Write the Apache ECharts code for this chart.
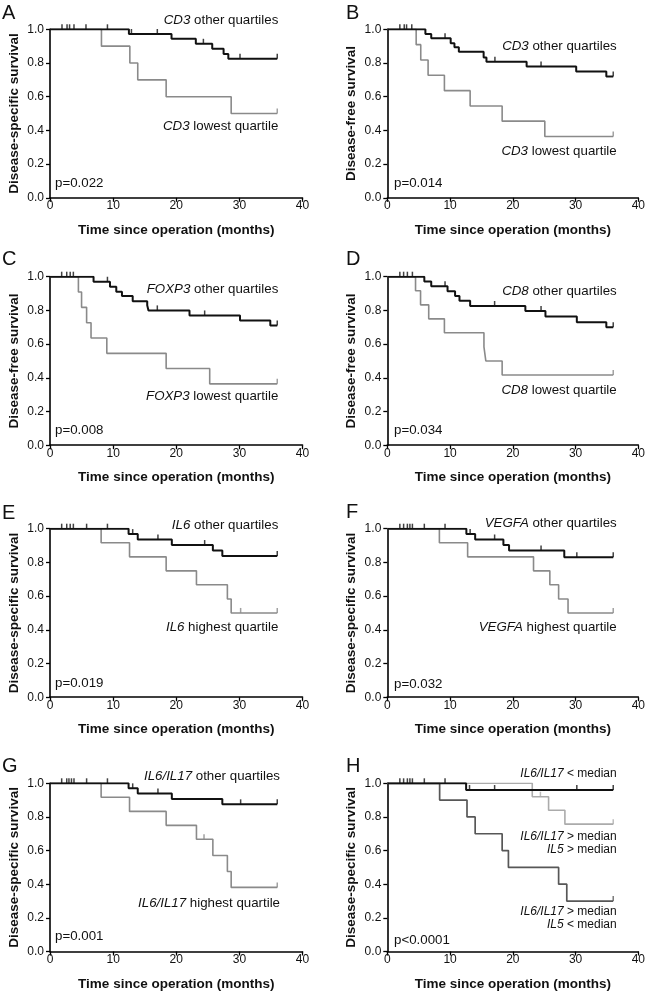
<!DOCTYPE html>
<html><head><meta charset="utf-8">
<script src="https://cdn.jsdelivr.net/npm/echarts@6/dist/echarts.min.js"></script>
<style>html,body{margin:0;padding:0;background:#fff}#c{width:648px;height:992px}</style>
</head><body><div id="c"></div>
<script>
// ---------- axis ticks ----------
const xTicks = [0, 10, 20, 30, 40];
const yTicks = [0, 0.2, 0.4, 0.6, 0.8, 1.0];
const xTitle = 'Time since operation (months)';
const yTitles = ['Disease-specific survival', 'Disease-free survival', 'Disease-free survival', 'Disease-free survival',
                 'Disease-specific survival', 'Disease-specific survival', 'Disease-specific survival', 'Disease-specific survival'];
const panelLetters = ['A', 'B', 'C', 'D', 'E', 'F', 'G', 'H'];
const pValues = ['p=0.022', 'p=0.014', 'p=0.008', 'p=0.034', 'p=0.019', 'p=0.032', 'p=0.001', 'p<0.0001'];

// ---------- Panel A : CD3, disease-specific survival ----------
const A_other_t = [0, 12.5, 19.25, 23.1, 25.7, 27.5, 28.25, 36];
const A_other_s = [1, 0.972, 0.944, 0.914, 0.884, 0.854, 0.825, 0.825];
const A_other_c = [1.9, 2.7, 3.1, 3.8, 5.7, 9.1, 12.9, 17.0, 24.3, 30.1, 36];
const A_low_t = [0, 8.15, 12.65, 13.9, 18.4, 28.7, 36];
const A_low_s = [1, 0.9, 0.8, 0.7, 0.6, 0.5, 0.5];
const A_low_c = [36];

// ---------- Panel B : CD3, disease-free survival ----------
const B_other_t = [0, 6.07, 7.0, 10.1, 10.7, 11.4, 15.35, 15.8, 22.2, 30.1, 34.9, 36];
const B_other_s = [1, 0.972, 0.947, 0.917, 0.893, 0.867, 0.832, 0.808, 0.779, 0.749, 0.72, 0.72];
const B_other_c = [2.0, 2.7, 3.07, 3.9, 9.2, 17.15, 24.5, 36];
const B_low_t = [0, 4.6, 5.33, 6.5, 9.1, 13.2, 18.3, 25.1, 36];
const B_low_s = [1, 0.909, 0.818, 0.727, 0.636, 0.545, 0.455, 0.364, 0.364];
const B_low_c = [36];

// ---------- Panel C : FOXP3, disease-free survival ----------
const C_other_t = [0, 6.9, 9.5, 10.5, 11.4, 13.1, 15.4, 15.6, 22.1, 30.1, 34.9, 36];
const C_other_s = [1, 0.97, 0.94, 0.91, 0.885, 0.855, 0.83, 0.80, 0.77, 0.74, 0.71, 0.71];
const C_other_c = [1.85, 2.65, 3.2, 3.7, 9.1, 17.0, 24.5, 36];
const C_low_t = [0, 4.5, 5.0, 5.8, 6.5, 9.0, 18.4, 25.3, 36];
const C_low_s = [1, 0.909, 0.818, 0.727, 0.636, 0.545, 0.455, 0.364, 0.364];
const C_low_c = [36];

// ---------- Panel D : CD8, disease-free survival ----------
const D_other_t = [0, 5.9, 7.0, 9.6, 10.8, 11.5, 13.2, 22.0, 25.2, 30.2, 34.9, 36];
const D_other_s = [1, 0.972, 0.944, 0.914, 0.886, 0.857, 0.826, 0.796, 0.764, 0.73, 0.70, 0.70];
const D_other_c = [2.0, 2.6, 3.2, 4.0, 9.2, 17.1, 24.5, 36];
const D_low_t = [0, 4.5, 5.3, 6.6, 9.1, 15.4, 15.7, 18.3, 36];
const D_low_s = [1, 0.917, 0.833, 0.75, 0.667, 0.583, 0.5, 0.417, 0.417];
const D_low_c = [36];

// ---------- Panel E : IL6, disease-specific survival ----------
const E_other_t = [0, 12.45, 13.9, 19.3, 25.8, 27.3, 36];
const E_other_s = [1, 0.968, 0.936, 0.903, 0.87, 0.838, 0.838];
const E_other_c = [1.85, 2.65, 3.2, 3.7, 5.8, 9.1, 13.1, 17.1, 24.5, 36];
const E_high_t = [0, 8.1, 12.6, 18.4, 23.2, 28.1, 28.7, 36];
const E_high_s = [1, 0.917, 0.833, 0.75, 0.667, 0.583, 0.5, 0.5];
const E_high_c = [30.2, 36];

// ---------- Panel F : VEGFA, disease-specific survival ----------
const F_other_t = [0, 12.6, 14.0, 18.5, 19.4, 28.2, 36];
const F_other_s = [1, 0.968, 0.936, 0.903, 0.87, 0.83, 0.83];
const F_other_c = [2.0, 2.6, 3.2, 3.6, 4.0, 5.9, 9.2, 13.2, 17.1, 24.5, 30.2, 36];
const F_high_t = [0, 8.3, 12.8, 23.3, 25.9, 27.3, 28.8, 36];
const F_high_s = [1, 0.917, 0.833, 0.75, 0.667, 0.583, 0.5, 0.5];
const F_high_c = [36];

// ---------- Panel G : IL6/IL17, disease-specific survival ----------
const G_other_t = [0, 12.45, 13.9, 19.3, 27.3, 36];
const G_other_s = [1, 0.97, 0.94, 0.907, 0.875, 0.875];
const G_other_c = [1.85, 2.65, 3.0, 3.4, 3.8, 5.8, 9.1, 13.1, 17.1, 30.2, 36];
const G_high_t = [0, 8.1, 12.6, 18.4, 23.2, 25.8, 28.1, 28.7, 36];
const G_high_s = [1, 0.917, 0.833, 0.75, 0.667, 0.571, 0.476, 0.381, 0.381];
const G_high_c = [24.4, 36];

// ---------- Panel H : IL6/IL17 x IL5, disease-specific survival ----------
const H_below_t = [0, 12.56, 36];
const H_below_s = [1, 0.96, 0.96];
const H_below_c = [2.0, 2.6, 3.2, 3.6, 4.0, 5.9, 9.2, 13.1, 17.1, 30.2, 36];
const H_il5hi_t = [0, 23.1, 25.7, 28.3, 36];
const H_il5hi_s = [1, 0.92, 0.84, 0.757, 0.757];
const H_il5hi_c = [24.4, 36];
const H_il5lo_t = [0, 8.34, 12.7, 14.0, 18.3, 19.3, 27.3, 28.6, 36];
const H_il5lo_s = [1, 0.9, 0.8, 0.7, 0.6, 0.5, 0.4, 0.3, 0.3];
const H_il5lo_c = [36];

// ---------- annotation texts ----------
const annA = ['{i|CD3} other quartiles', '{i|CD3} lowest quartile'];
const annB = ['{i|CD3} other quartiles', '{i|CD3} lowest quartile'];
const annC = ['{i|FOXP3} other quartiles', '{i|FOXP3} lowest quartile'];
const annD = ['{i|CD8} other quartiles', '{i|CD8} lowest quartile'];
const annE = ['{i|IL6} other quartiles', '{i|IL6} highest quartile'];
const annF = ['{i|VEGFA} other quartiles', '{i|VEGFA} highest quartile'];
const annG = ['{i|IL6/IL17} other quartiles', '{i|IL6/IL17} highest quartile'];
const annH = ['{i|IL6/IL17} < median', '{i|IL6/IL17} > median', '{i|IL5} > median', '{i|IL6/IL17} > median', '{i|IL5} < median'];

// ---------- styling / layout ----------
const FONT = "'Liberation Sans', Arial, Helvetica, sans-serif";
const BLACK = '#111111', GRAY = '#8a8a8a', LIGHT = '#ababab', DARK = '#575757';
const colLeft = [50, 387.3];
const rowTop = [29.3, 276.7, 528.7, 783.3];
const gridW = 252.5, gridH = 168.5;

const panels = [
  { curves: [[A_low_t, A_low_s, A_low_c, GRAY, 1.6], [A_other_t, A_other_s, A_other_c, BLACK, 2]],
    ann: [[annA[0], 278.3, 20, 'right'], [annA[1], 278.3, 126.7, 'right']], p: [55, 183.3] },
  { curves: [[B_low_t, B_low_s, B_low_c, GRAY, 1.6], [B_other_t, B_other_s, B_other_c, BLACK, 2]],
    ann: [[annB[0], 616.7, 46.7, 'right'], [annB[1], 616.7, 151.7, 'right']], p: [394, 183.3] },
  { curves: [[C_low_t, C_low_s, C_low_c, GRAY, 1.6], [C_other_t, C_other_s, C_other_c, BLACK, 2]],
    ann: [[annC[0], 278.3, 289, 'right'], [annC[1], 278.3, 396.7, 'right']], p: [55, 430] },
  { curves: [[D_low_t, D_low_s, D_low_c, GRAY, 1.6], [D_other_t, D_other_s, D_other_c, BLACK, 2]],
    ann: [[annD[0], 616.7, 291, 'right'], [annD[1], 616.7, 390.7, 'right']], p: [394, 430] },
  { curves: [[E_high_t, E_high_s, E_high_c, GRAY, 1.6], [E_other_t, E_other_s, E_other_c, BLACK, 2]],
    ann: [[annE[0], 278.3, 525.3, 'right'], [annE[1], 278.3, 627, 'right']], p: [55, 683.7] },
  { curves: [[F_high_t, F_high_s, F_high_c, GRAY, 1.6], [F_other_t, F_other_s, F_other_c, BLACK, 2]],
    ann: [[annF[0], 616.7, 523.7, 'right'], [annF[1], 616.7, 627, 'right']], p: [394, 684.7] },
  { curves: [[G_high_t, G_high_s, G_high_c, GRAY, 1.6], [G_other_t, G_other_s, G_other_c, BLACK, 2]],
    ann: [[annG[0], 280, 776, 'right'], [annG[1], 280, 903.3, 'right']], p: [55, 936.7] },
  { curves: [[H_il5lo_t, H_il5lo_s, H_il5lo_c, DARK, 1.7], [H_il5hi_t, H_il5hi_s, H_il5hi_c, LIGHT, 1.6], [H_below_t, H_below_s, H_below_c, BLACK, 2]],
    ann: [[annH[0], 616.7, 773.3, 'right'], [annH[1], 616.7, 836.7, 'right'], [annH[2], 616.7, 850, 'right'],
          [annH[3], 616.7, 911.7, 'right'], [annH[4], 616.7, 924.3, 'right']], p: [394, 940], small: true }
];
const letterPos = [[2, 13.7], [346, 13.7], [2, 259], [346, 259], [2, 513], [346, 512.5], [2, 766], [346, 766]];

function stepValue(ts, ss, t) {
  let v = ss[0];
  for (let i = 0; i < ts.length; i++) if (ts[i] <= t) v = ss[i];
  return v;
}

const grid = [], xAxis = [], yAxis = [], series = [], graphic = [];
panels.forEach((p, i) => {
  const col = i % 2, row = Math.floor(i / 2);
  grid.push({ left: colLeft[col], top: rowTop[row], width: gridW, height: gridH, containLabel: false });
  xAxis.push({
    type: 'value', gridIndex: i, min: xTicks[0], max: xTicks[xTicks.length - 1], interval: xTicks[1] - xTicks[0],
    axisLine: { show: true, onZero: false, lineStyle: { color: '#000', width: 1.6 } },
    axisTick: { show: true, length: 4, lineStyle: { color: '#000', width: 1.3 } },
    splitLine: { show: false },
    axisLabel: { fontSize: 12, color: '#111', fontFamily: FONT, margin: 2 },
    name: xTitle, nameLocation: 'middle', nameGap: 25.5,
    nameTextStyle: { fontSize: 13.5, fontWeight: 'bold', color: '#111', fontFamily: FONT }
  });
  yAxis.push({
    type: 'value', gridIndex: i, min: yTicks[0], max: yTicks[yTicks.length - 1], interval: 0.2,
    axisLine: { show: true, onZero: false, lineStyle: { color: '#000', width: 1.6 } },
    axisTick: { show: true, length: 4, lineStyle: { color: '#000', width: 1.3 } },
    splitLine: { show: false },
    axisLabel: { fontSize: 12, color: '#111', fontFamily: FONT, margin: 6, formatter: v => v.toFixed(1) },
    name: yTitles[i], nameLocation: 'middle', nameGap: 29,
    nameTextStyle: { fontSize: 13.5, fontWeight: 'bold', color: '#111', fontFamily: FONT }
  });
  p.curves.forEach(([t, s, c, color, w], k) => {
    series.push({
      type: 'line', xAxisIndex: i, yAxisIndex: i, step: 'end', symbol: 'none', silent: true,
      data: t.map((x, j) => [x, s[j]]),
      lineStyle: { color: color, width: w }, z: 2 + k
    });
    series.push({
      type: 'scatter', xAxisIndex: i, yAxisIndex: i, symbol: 'rect', symbolSize: [1.5, 5], symbolOffset: [0, -2.5],
      silent: true, data: c.map(x => [x, stepValue(t, s, x)]),
      itemStyle: { color: color }, z: 2 + k
    });
  });
  const fs = p.small ? 12 : 13.3;
  p.ann.forEach(([txt, x, y, al]) => {
    graphic.push({ type: 'text', x: x, y: y, silent: true,
      style: { text: txt, fontSize: fs, fontFamily: FONT, fill: '#111', align: al, verticalAlign: 'middle',
        rich: { i: { fontStyle: 'italic', fontSize: fs, fontFamily: FONT, fill: '#111' } } } });
  });
  graphic.push({ type: 'text', x: p.p[0], y: p.p[1], silent: true,
    style: { text: pValues[i], fontSize: 13.3, fontFamily: FONT, fill: '#111', align: 'left', verticalAlign: 'middle' } });
  graphic.push({ type: 'text', x: letterPos[i][0], y: letterPos[i][1], silent: true,
    style: { text: panelLetters[i], fontSize: 20, fontFamily: FONT, fill: '#111', align: 'left', verticalAlign: 'middle' } });
});

const chart = echarts.init(document.getElementById('c'), null, { renderer: 'canvas' });
chart.setOption({ animation: false, backgroundColor: '#fff', grid, xAxis, yAxis, series, graphic });
</script>
</body></html>
